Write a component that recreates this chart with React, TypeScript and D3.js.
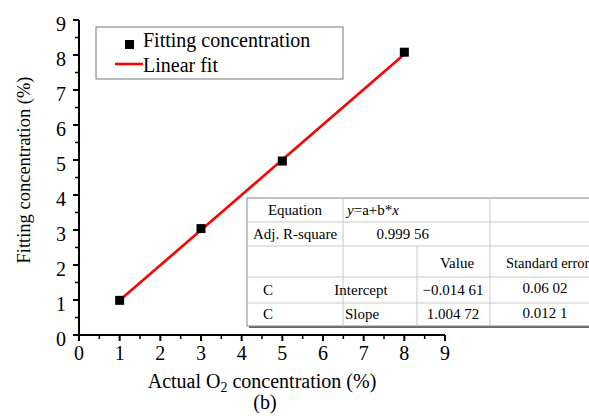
import React from "react";
import * as d3 from "d3";

const actual = [1, 3, 5, 8];
const fitted = [0.99, 3.04, 4.97, 8.08];
const intercept = -0.01461;
const slope = 1.00472;
const xTicks = [0, 1, 2, 3, 4, 5, 6, 7, 8, 9];
const yTicks = [0, 1, 2, 3, 4, 5, 6, 7, 8, 9];
const minorTicks = [0.5, 1.5, 2.5, 3.5, 4.5, 5.5, 6.5, 7.5, 8.5];

const FONT = "Liberation Serif, Times New Roman, serif";

export default function App() {
  const W = 589, H = 416;
  const x = d3.scaleLinear().domain([0, 9]).range([79, 445]);
  const y = d3.scaleLinear().domain([0, 9]).range([335, 20]);
  const fitX = [actual[0], actual[actual.length - 1]];
  const line = d3.line<number>().x(d => x(d)).y(d => y(intercept + slope * d));

  const tL = 247, tR = 600, tT = 198;
  const rows = [198, 222, 246, 277, 303, 326];
  const c1 = 343, c2 = 417, c3 = 490;
  const grid = "#c8c8c8";

  return (
    <svg width={W} height={H} style={{ position: "absolute", left: 0, top: 0, background: "#fff", fontFamily: FONT }}>
      <path d={line(fitX) || ""} stroke="#ff0000" strokeWidth={2.6} fill="none" />
      {actual.map((a, i) => (
        <rect key={i} x={x(a) - 4.5} y={y(fitted[i]) - 4.5} width={9} height={9} fill="#000" />
      ))}
      <line x1={x(0)} x2={x(0)} y1={y(9)} y2={y(0)} stroke="#000" strokeWidth={2} />
      <line x1={x(0)} x2={x(9)} y1={y(0)} y2={y(0)} stroke="#000" strokeWidth={2} />
      {yTicks.map(t => (
        <g key={"y" + t}>
          <line x1={x(0) - 6} x2={x(0)} y1={y(t)} y2={y(t)} stroke="#000" strokeWidth={2} />
          <text x={66} y={y(t) + 11} fontSize={20} textAnchor="end">{t}</text>
        </g>
      ))}
      {minorTicks.map(t => (
        <line key={"ym" + t} x1={x(0) - 4} x2={x(0)} y1={y(t)} y2={y(t)} stroke="#000" strokeWidth={1.5} />
      ))}
      {xTicks.map(t => (
        <g key={"x" + t}>
          <line x1={x(t)} x2={x(t)} y1={y(0)} y2={y(0) + 6} stroke="#000" strokeWidth={2} />
          <text x={x(t)} y={y(0) + 25} fontSize={20} textAnchor="middle">{t}</text>
        </g>
      ))}
      {minorTicks.map(t => (
        <line key={"xm" + t} x1={x(t)} x2={x(t)} y1={y(0)} y2={y(0) + 4} stroke="#000" strokeWidth={1.5} />
      ))}
      <text x={262} y={388} fontSize={20} textAnchor="middle">
        Actual O<tspan fontSize={14} dy={4}>2</tspan><tspan dy={-4}> concentration (%)</tspan>
      </text>
      <text x={265} y={409} fontSize={20} textAnchor="middle">(b)</text>
      <text transform={`translate(30,170) rotate(-90)`} fontSize={18.5} textAnchor="middle">
        Fitting concentration (%)
      </text>
      <rect x={96} y={27} width={247} height={52} fill="#fff" stroke="#777" strokeWidth={1} />
      <rect x={125} y={40} width={9} height={9} fill="#000" />
      <text x={143} y={47} fontSize={20}>Fitting concentration</text>
      <line x1={115} x2={143} y1={64} y2={64} stroke="#ff0000" strokeWidth={2.6} />
      <text x={143} y={72} fontSize={20}>Linear fit</text>
      <rect x={tL + 2} y={tT + 2} width={tR - tL} height={rows[5] - tT} fill="#666" />
      <rect x={tL} y={tT} width={tR - tL} height={rows[5] - tT} fill="#fff" stroke="#888" strokeWidth={1} />
      {rows.slice(1, 5).map((r, i) => (
        <line key={"r" + i} x1={tL} x2={tR} y1={r} y2={r} stroke={grid} strokeWidth={1} />
      ))}
      <line x1={c1} x2={c1} y1={tT} y2={rows[5]} stroke={grid} />
      <line x1={c2} x2={c2} y1={rows[2]} y2={rows[5]} stroke={grid} />
      <line x1={c3} x2={c3} y1={tT} y2={rows[5]} stroke={grid} />
      <g fontSize={15}>
        <text x={295} y={215} textAnchor="middle">Equation</text>
        <text x={347} y={215}><tspan fontStyle="italic">y</tspan>=a+b*<tspan fontStyle="italic">x</tspan></text>
        <text x={253} y={239}>Adj. R-square</text>
        <text x={429} y={239} textAnchor="end">0.999 56</text>
        <text x={457} y={268} textAnchor="middle">Value</text>
        <text x={506} y={268} fontSize={14.5}>Standard error</text>
        <text x={263} y={295}>C</text>
        <text x={361} y={295} textAnchor="middle">Intercept</text>
        <text x={453} y={295} textAnchor="middle">−0.014 61</text>
        <text x={545} y={293} textAnchor="middle">0.06 02</text>
        <text x={263} y={319}>C</text>
        <text x={362} y={319} textAnchor="middle">Slope</text>
        <text x={453} y={319} textAnchor="middle">1.004 72</text>
        <text x={545} y={318} textAnchor="middle">0.012 1</text>
      </g>
    </svg>
  );
}
